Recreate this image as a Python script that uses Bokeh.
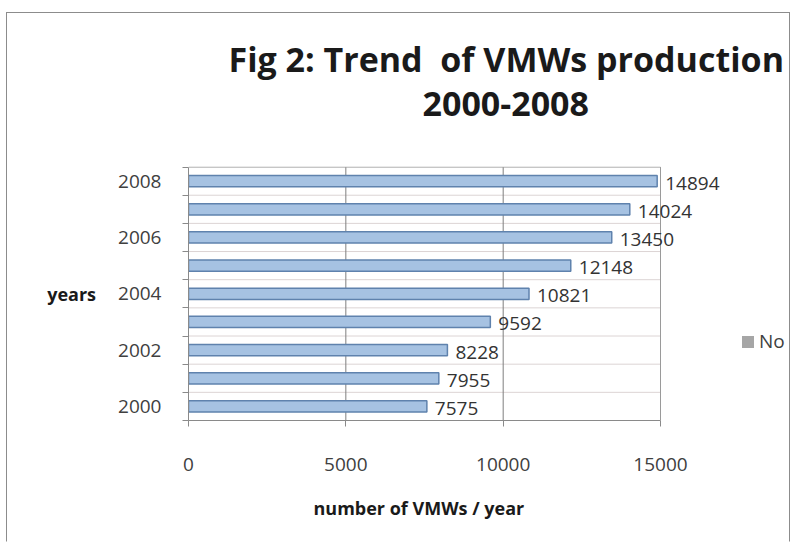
from bokeh.plotting import figure
from bokeh.models import (ColumnDataSource, Range1d, FixedTicker, LabelSet,
                          Legend, LegendItem, Title)
from bokeh.core.properties import value
from bokeh.embed import file_html
from bokeh.resources import INLINE

years = [2000, 2001, 2002, 2003, 2004, 2005, 2006, 2007, 2008]
production = [7575, 7955, 8228, 9592, 10821, 12148, 13450, 14024, 14894]
year_ticks = [2000, 2002, 2004, 2006, 2008]
x_ticks = [0, 5000, 10000, 15000]
title_lines = ["Fig 2: Trend \u00a0of VMWs production", "2000-2008"]
x_title = "number of VMWs / year"
y_title = "years"
series_name = "No"

x_max = 15000
y_lo, y_hi = 1999.5, 2008.5
halves = [y + 0.5 for y in range(1999, 2009)]

src = ColumnDataSource(dict(y=years, v=production, t=[str(v) for v in production]))

p = figure(width=784, height=530, output_backend="svg", toolbar_location=None,
           title=None, x_range=Range1d(0, 19099), y_range=Range1d(y_lo, y_hi + 0.02),
           min_border_left=181, min_border_right=2, min_border_top=153,
           min_border_bottom=119)
p.styles = {"border-top": "1px solid #8c8c8c", "border-left": "1px solid #8c8c8c",
            "border-right": "1px solid #8c8c8c", "border-bottom": "1px solid white",
            "margin": "12px 0px 0px 6px"}
p.outline_line_color = None
p.background_fill_color = "white"
p.xgrid.visible = False
p.ygrid.visible = False

# back wall: horizontal lines, vertical gridlines, border
inner = halves[1:-1]
p.segment(x0=[0] * len(inner), y0=inner, x1=[x_max] * len(inner), y1=inner,
          line_color="#dcd4d4", line_width=1)
p.segment(x0=[5000, 10000], y0=[y_lo, y_lo], x1=[5000, 10000], y1=[y_hi, y_hi],
          line_color="#7f7f7f", line_width=1)
p.segment(x0=[0, x_max], y0=[y_hi, y_lo], x1=[x_max, x_max], y1=[y_hi, y_hi],
          line_color="#9a9a9a", line_width=1)

# axes
p.xaxis.ticker = FixedTicker(ticks=x_ticks)
p.xaxis.bounds = (0, x_max)
p.yaxis.ticker = FixedTicker(ticks=year_ticks, minor_ticks=halves)
p.yaxis.bounds = (y_lo, y_hi)
for ax in (p.xaxis[0], p.yaxis[0]):
    ax.axis_line_color = "#8a8a8a"
    ax.major_tick_line_color = "#8a8a8a"
    ax.minor_tick_line_color = "#8a8a8a"
    ax.major_label_text_font = "Open Sans"
    ax.major_label_text_font_size = "19px"
    ax.major_label_text_color = "#404040"
    ax.axis_label_text_font = "Open Sans"
    ax.axis_label_text_font_style = "bold"
    ax.axis_label_text_font_size = "18px"
    ax.axis_label_text_color = "#1a1a1a"
p.yaxis.major_tick_out = 0
p.yaxis.major_tick_in = 0
p.yaxis.minor_tick_out = 6
p.yaxis.minor_tick_in = 0
p.yaxis.major_label_standoff = 21
p.yaxis.axis_label = y_title
p.yaxis.axis_label_orientation = "horizontal"
p.yaxis.axis_label_standoff = 19
p.xaxis.major_tick_out = 6
p.xaxis.major_tick_in = 0
p.xaxis.minor_tick_line_color = None
p.xaxis.major_label_standoff = 31

r = p.hbar(y="y", right="v", left=0, height=0.4, source=src,
           fill_color="#a6c2e2", line_color="#5f82ad", line_width=1.5)

labels = LabelSet(x="v", y="y", text="t", source=src, x_offset=8, y_offset=-2,
                  text_baseline="middle", text_font=value("Open Sans"),
                  text_font_size="19px", text_color="#333333")
p.add_layout(labels)

# titles (stacked outward from the plot frame)
p.add_layout(Title(text="\u00a0", text_font_size="10px", standoff=34), "above")
p.add_layout(Title(text=title_lines[1], align="left", offset=234, standoff=8,
                   text_font="Open Sans", text_font_style="bold",
                   text_font_size="34px", text_color="#1a1a1a"), "above")
p.add_layout(Title(text=title_lines[0], align="left", offset=40, standoff=8,
                   text_font="Open Sans", text_font_style="bold",
                   text_font_size="34px", text_color="#1a1a1a"), "above")
p.add_layout(Title(text=x_title, align="left", offset=125, standoff=44,
                   vertical_align="top", text_font="Open Sans",
                   text_font_style="bold", text_font_size="18px",
                   text_color="#1a1a1a"), "below")

# legend with grey swatch (hidden renderer only used for the legend glyph)
swatch = p.hbar(y="y", right="v", left=0, height=0.4, source=src,
                fill_color="#a6a6a6", line_color=None, visible=False)
legend = Legend(items=[LegendItem(label=series_name, renderers=[swatch])],
                location=(552, 66), border_line_color=None,
                background_fill_alpha=0, label_text_font="Open Sans",
                label_text_font_size="19px", label_text_color="#404040",
                glyph_width=15, glyph_height=15, padding=0, margin=0,
                label_standoff=4, inactive_fill_alpha=0)
p.add_layout(legend)

open("out.html", "w").write(file_html(p, INLINE))
